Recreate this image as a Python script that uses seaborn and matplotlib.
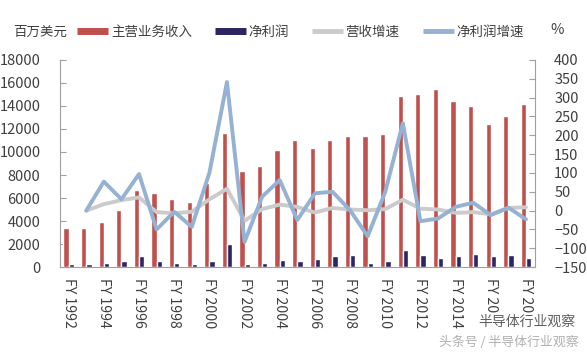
import numpy as np
import pandas as pd
import seaborn as sns
import matplotlib.pyplot as plt
from matplotlib.lines import Line2D

# === data ===
years = [str(y) for y in range(1992, 2019)]
revenue = [3400, 3400, 3950, 5000, 6700, 6400, 5900, 5650, 7350, 11650,
           8350, 8800, 10150, 11000, 10350, 11000, 11350, 11350, 11550, 14850,
           15050, 15500, 14450, 13950, 12400, 13100, 14200]
net_profit = [260, 260, 380, 520, 930, 500, 380, 260, 500, 2000,
              260, 380, 620, 520, 730, 930, 1020, 380, 500, 1450,
              1020, 820, 930, 1100, 930, 1020, 820]
rev_growth = [np.nan, 0, 17, 28, 35, -4, -7, -3, 30, 58,
              -27, 4, 16, 10, -5, 7, 3, 1, 4, 29,
              5, 3, -6, -4, -10, 7, 9]
np_growth = [np.nan, 0, 77, 30, 97, -50, -3, -43, 100, 341,
             -83, 37, 81, -25, 46, 50, 1, -68, 50, 232,
             -28, -21, 10, 21, -12, 8, -23]
tick_labels = ["FY " + y for y in years]

RED = "#C0504D"
NAVY = "#2B2563"
GREY = "#CBCBCB"
BLUE = "#95B1D3"
TXT = "#404040"

sns.set_style("white")
plt.rcParams['font.family'] = ['Noto Sans CJK SC', 'DejaVu Sans']

bars = pd.DataFrame({
    "year": years * 2,
    "value": revenue + net_profit,
    "series": ["主营业务收入"] * len(years) + ["净利润"] * len(years),
})

fig = plt.figure(figsize=(5.87, 3.52), dpi=100)
ax = fig.add_axes([0.102, 0.241, 0.809, 0.589])

sns.barplot(data=bars, x="year", y="value", hue="series",
            palette=[RED, NAVY], width=0.6, saturation=1,
            legend=False, ax=ax)
ax.set_xlim(-0.5, len(years) - 0.5)
ax.set_ylim(0, 18000)
ax.set_yticks(range(0, 18001, 2000))
ax.set_xticks(range(0, len(years), 2))
ax.set_xticklabels(tick_labels[::2], rotation=-90, fontsize=10.2, color=TXT)
ax.set_xticks(np.arange(-0.5, len(years), 1), minor=True)
ax.tick_params(axis="x", which="major", length=0, pad=8)
ax.tick_params(axis="x", which="minor", length=4, direction="in", color="#A0A0A0")
ax.tick_params(axis="y", length=4, direction="in", color="#A0A0A0",
               labelsize=10.5, labelcolor=TXT, pad=14)
ax.set_xlabel("")
ax.set_ylabel("")

ax2 = ax.twinx()
x_pos = np.arange(len(years))
sns.lineplot(x=x_pos, y=rev_growth, color=GREY, lw=2.8, ax=ax2)
sns.lineplot(x=x_pos, y=np_growth, color=BLUE, lw=2.8, ax=ax2)
ax2.set_ylim(-150, 400)
ax2.set_yticks(range(-150, 401, 50))
ax2.tick_params(axis="y", length=4, direction="in", color="#A0A0A0",
                labelsize=10.5, labelcolor=TXT, pad=14)

ax.spines["top"].set_visible(False)
ax2.spines["top"].set_visible(False)
ax.spines["right"].set_visible(False)
ax2.spines["left"].set_visible(False)
ax2.spines["bottom"].set_visible(False)
ax.spines["left"].set_color("#A0A0A0")
ax.spines["bottom"].set_color("#A0A0A0")
ax2.spines["right"].set_color("#A0A0A0")

# legend row across the top
handles = [
    Line2D([], [], color=RED, lw=5, solid_capstyle="butt"),
    Line2D([], [], color=NAVY, lw=5, solid_capstyle="butt"),
    Line2D([], [], color=GREY, lw=3.5, solid_capstyle="butt"),
    Line2D([], [], color=BLUE, lw=3.5, solid_capstyle="butt"),
]
labels = ["主营业务收入", "净利润", "营收增速", "净利润增速"]
fig.legend(handles, labels, loc="center left", bbox_to_anchor=(0.111, 0.91),
           ncol=4, frameon=False, fontsize=9.7, handlelength=2.3,
           handletextpad=0.2, columnspacing=1.7, labelcolor=TXT)
fig.text(0.022, 0.91, "百万美元", fontsize=9.7, color=TXT, va="center")
fig.text(0.938, 0.915, "%", fontsize=10.5, color=TXT, va="center")

# watermark, drawn over the last tick labels as in the reference
wm = dict(facecolor="white", edgecolor="none", pad=1.5)
fig.text(0.98, 0.085, "半导体行业观察", fontsize=10, color="#606060",
         ha="right", va="center", bbox=wm, zorder=10)
fig.text(0.985, 0.027, "头条号 / 半导体行业观察", fontsize=9.3, color="#B0B0B0",
         ha="right", va="center", bbox=wm, zorder=10)

fig.savefig("out.png", dpi=100)
